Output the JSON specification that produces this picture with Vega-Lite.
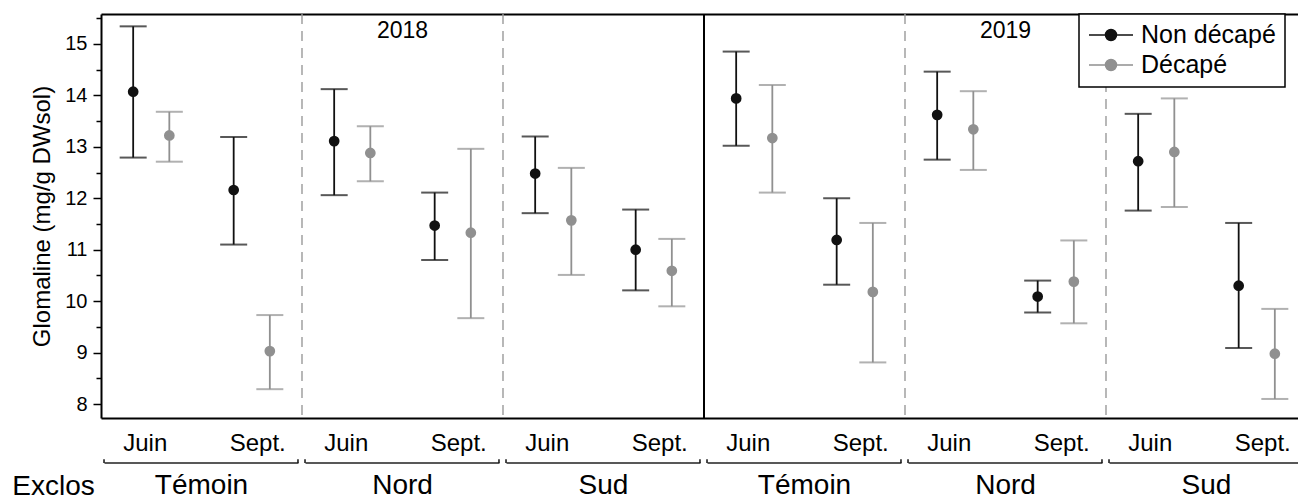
{
  "$schema": "https://vega.github.io/schema/vega-lite/v6.json",
  "width": 1197,
  "height": 404,
  "autosize": "none",
  "padding": {"left": 101, "top": 14, "right": 0, "bottom": 81},
  "background": "white",
  "config": {
    "view": {"stroke": null},
    "font": "Liberation Sans",
    "axis": {"grid": false, "domainColor": "black", "tickColor": "black", "labelColor": "black", "titleColor": "black", "titleFontWeight": "normal"},
    "legend": {"strokeWidth": 1.5}
  },
  "data": {
    "values": [
      {"periode": "2018 Témoin Juin", "annee": "2018", "exclos": "Témoin", "mois": "Juin", "traitement": "Non décapé", "moyenne": 14.07, "bas": 12.79, "haut": 15.34},
      {"periode": "2018 Témoin Juin", "annee": "2018", "exclos": "Témoin", "mois": "Juin", "traitement": "Décapé", "moyenne": 13.22, "bas": 12.71, "haut": 13.68},
      {"periode": "2018 Témoin Sept.", "annee": "2018", "exclos": "Témoin", "mois": "Sept.", "traitement": "Non décapé", "moyenne": 12.16, "bas": 11.10, "haut": 13.19},
      {"periode": "2018 Témoin Sept.", "annee": "2018", "exclos": "Témoin", "mois": "Sept.", "traitement": "Décapé", "moyenne": 9.03, "bas": 8.29, "haut": 9.73},
      {"periode": "2018 Nord Juin", "annee": "2018", "exclos": "Nord", "mois": "Juin", "traitement": "Non décapé", "moyenne": 13.11, "bas": 12.06, "haut": 14.12},
      {"periode": "2018 Nord Juin", "annee": "2018", "exclos": "Nord", "mois": "Juin", "traitement": "Décapé", "moyenne": 12.88, "bas": 12.33, "haut": 13.40},
      {"periode": "2018 Nord Sept.", "annee": "2018", "exclos": "Nord", "mois": "Sept.", "traitement": "Non décapé", "moyenne": 11.47, "bas": 10.80, "haut": 12.11},
      {"periode": "2018 Nord Sept.", "annee": "2018", "exclos": "Nord", "mois": "Sept.", "traitement": "Décapé", "moyenne": 11.33, "bas": 9.67, "haut": 12.96},
      {"periode": "2018 Sud Juin", "annee": "2018", "exclos": "Sud", "mois": "Juin", "traitement": "Non décapé", "moyenne": 12.48, "bas": 11.71, "haut": 13.20},
      {"periode": "2018 Sud Juin", "annee": "2018", "exclos": "Sud", "mois": "Juin", "traitement": "Décapé", "moyenne": 11.57, "bas": 10.51, "haut": 12.59},
      {"periode": "2018 Sud Sept.", "annee": "2018", "exclos": "Sud", "mois": "Sept.", "traitement": "Non décapé", "moyenne": 11.00, "bas": 10.21, "haut": 11.78},
      {"periode": "2018 Sud Sept.", "annee": "2018", "exclos": "Sud", "mois": "Sept.", "traitement": "Décapé", "moyenne": 10.59, "bas": 9.90, "haut": 11.21},
      {"periode": "2019 Témoin Juin", "annee": "2019", "exclos": "Témoin", "mois": "Juin", "traitement": "Non décapé", "moyenne": 13.94, "bas": 13.02, "haut": 14.85},
      {"periode": "2019 Témoin Juin", "annee": "2019", "exclos": "Témoin", "mois": "Juin", "traitement": "Décapé", "moyenne": 13.17, "bas": 12.11, "haut": 14.20},
      {"periode": "2019 Témoin Sept.", "annee": "2019", "exclos": "Témoin", "mois": "Sept.", "traitement": "Non décapé", "moyenne": 11.19, "bas": 10.32, "haut": 12.00},
      {"periode": "2019 Témoin Sept.", "annee": "2019", "exclos": "Témoin", "mois": "Sept.", "traitement": "Décapé", "moyenne": 10.18, "bas": 8.81, "haut": 11.52},
      {"periode": "2019 Nord Juin", "annee": "2019", "exclos": "Nord", "mois": "Juin", "traitement": "Non décapé", "moyenne": 13.62, "bas": 12.75, "haut": 14.46},
      {"periode": "2019 Nord Juin", "annee": "2019", "exclos": "Nord", "mois": "Juin", "traitement": "Décapé", "moyenne": 13.34, "bas": 12.55, "haut": 14.08},
      {"periode": "2019 Nord Sept.", "annee": "2019", "exclos": "Nord", "mois": "Sept.", "traitement": "Non décapé", "moyenne": 10.09, "bas": 9.78, "haut": 10.40},
      {"periode": "2019 Nord Sept.", "annee": "2019", "exclos": "Nord", "mois": "Sept.", "traitement": "Décapé", "moyenne": 10.38, "bas": 9.57, "haut": 11.18},
      {"periode": "2019 Sud Juin", "annee": "2019", "exclos": "Sud", "mois": "Juin", "traitement": "Non décapé", "moyenne": 12.72, "bas": 11.76, "haut": 13.64},
      {"periode": "2019 Sud Juin", "annee": "2019", "exclos": "Sud", "mois": "Juin", "traitement": "Décapé", "moyenne": 12.90, "bas": 11.83, "haut": 13.94},
      {"periode": "2019 Sud Sept.", "annee": "2019", "exclos": "Sud", "mois": "Sept.", "traitement": "Non décapé", "moyenne": 10.30, "bas": 9.09, "haut": 11.52},
      {"periode": "2019 Sud Sept.", "annee": "2019", "exclos": "Sud", "mois": "Sept.", "traitement": "Décapé", "moyenne": 8.98, "bas": 8.10, "haut": 9.85}
    ]
  },
  "layer": [
    {
      "transform": [{"filter": "datum.mois == 'Juin' && datum.exclos != 'Témoin' && datum.traitement == 'Non décapé'"}],
      "mark": {"type": "rule", "color": "#9a9a9a", "strokeWidth": 1.4, "strokeDash": [10, 7]},
      "encoding": {
        "x": {"field": "periode", "type": "nominal", "bandPosition": 0,
          "scale": {"domain": ["2018 Témoin Juin", "2018 Témoin Sept.", "2018 Nord Juin", "2018 Nord Sept.", "2018 Sud Juin", "2018 Sud Sept.", "2019 Témoin Juin", "2019 Témoin Sept.", "2019 Nord Juin", "2019 Nord Sept.", "2019 Sud Juin", "2019 Sud Sept."],
            "range": [0, 1206], "paddingInner": 0, "paddingOuter": 0},
          "axis": {"orient": "top", "labels": false, "ticks": false, "title": null, "domain": true, "domainWidth": 2}}
      }
    },
    {
      "transform": [{"filter": "datum.annee == '2019' && datum.mois == 'Juin' && datum.exclos == 'Témoin' && datum.traitement == 'Non décapé'"}],
      "mark": {"type": "rule", "color": "black", "strokeWidth": 2},
      "encoding": {
        "x": {"field": "periode", "type": "nominal", "bandPosition": 0, "axis": null}
      }
    },
    {
      "mark": {"type": "rule", "strokeWidth": 1.8},
      "encoding": {
        "x": {"field": "periode", "type": "nominal", "axis": null},
        "xOffset": {"field": "traitement", "type": "nominal", "scale": {"domain": ["Non décapé", "Décapé"], "paddingOuter": 0.39, "paddingInner": 0}},
        "y": {"field": "bas", "type": "quantitative", "scale": {"domain": [7.73, 15.58], "nice": false, "zero": false},
          "axis": {"orient": "left", "values": [8.5, 9.5, 10.5, 11.5, 12.5, 13.5, 14.5, 15.5], "labels": false, "domain": false, "tickSize": 5, "tickWidth": 1.5, "title": null}},
        "y2": {"field": "haut"},
        "color": {"field": "traitement", "type": "nominal", "scale": {"domain": ["Non décapé", "Décapé"], "range": ["#111111", "#909090"]}}
      }
    },
    {
      "mark": {"type": "tick", "size": 27, "thickness": 2},
      "encoding": {
        "x": {"field": "periode", "type": "nominal", "axis": null},
        "xOffset": {"field": "traitement", "type": "nominal"},
        "y": {"field": "bas", "type": "quantitative", "axis": null},
        "color": {"field": "traitement", "type": "nominal"}
      }
    },
    {
      "mark": {"type": "tick", "size": 27, "thickness": 2},
      "encoding": {
        "x": {"field": "periode", "type": "nominal", "axis": null},
        "xOffset": {"field": "traitement", "type": "nominal"},
        "y": {"field": "haut", "type": "quantitative", "axis": null},
        "color": {"field": "traitement", "type": "nominal"}
      }
    },
    {
      "mark": {"type": "point", "filled": true, "size": 115, "opacity": 1},
      "encoding": {
        "x": {"field": "periode", "type": "nominal",
          "axis": {"orient": "bottom", "labelExpr": "split(datum.value, ' ')[2]", "labelAngle": 0, "ticks": false, "tickSize": 0,
            "labelFontSize": 24, "labelBaseline": "alphabetic", "labelPadding": 32,
            "labelOffset": {"condition": {"test": "indexof(datum.value, 'Juin') >= 0", "value": -6}, "value": 6},
            "domainWidth": 2,
            "title": "Exclos", "titleFontSize": 28, "titleX": -48, "titleY": 76, "titleAlign": "center", "titleBaseline": "alphabetic", "titleAnchor": "start"}},
        "xOffset": {"field": "traitement", "type": "nominal"},
        "y": {"field": "moyenne", "type": "quantitative",
          "axis": {"orient": "left", "values": [8, 9, 10, 11, 12, 13, 14, 15], "tickSize": 8, "tickWidth": 1.5, "labelFontSize": 20, "labelPadding": 6, "domainWidth": 2,
            "title": "Glomaline (mg/g DWsol)", "titleFontSize": 24, "titlePadding": 10}},
        "color": {"field": "traitement", "type": "nominal",
          "legend": {"title": null, "orient": "none", "legendX": 978, "legendY": 0, "direction": "vertical",
            "symbolType": "M-1,0H1M0.25,0A0.25,0.25,0,1,1,-0.25,0A0.25,0.25,0,1,1,0.25,0Z",
            "symbolSize": 1936, "clipHeight": 24, "symbolStrokeWidth": 1.5, "symbolOpacity": 1,
            "labelFontSize": 25, "labelColor": "black", "labelOffset": 7, "padding": 9, "rowPadding": 5, "labelLimit": 400,
            "labelExpr": "datum.label + '\u2003'",
            "strokeColor": "black", "fillColor": "white",
            "encode": {"symbols": {"update": {"stroke": {"scale": "color", "field": "value"}, "fill": {"scale": "color", "field": "value"}, "opacity": {"value": 1}}}}}}
      }
    },
    {
      "transform": [{"filter": "datum.mois == 'Sept.' && datum.traitement == 'Non décapé'"}],
      "mark": {"type": "tick", "size": 194, "thickness": 2, "color": "#111111", "xOffset": -50.25},
      "encoding": {
        "x": {"field": "periode", "type": "nominal", "axis": null},
        "y": {"datum": 6.855, "type": "quantitative", "axis": null}
      }
    },
    {
      "transform": [{"filter": "datum.mois == 'Juin' && datum.traitement == 'Non décapé'"}],
      "mark": {"type": "rule", "strokeWidth": 1.5, "color": "#111111"},
      "encoding": {
        "x": {"field": "periode", "type": "nominal", "bandPosition": 0.03, "axis": null},
        "y": {"datum": 6.855, "type": "quantitative", "axis": null},
        "y2": {"datum": 6.93}
      }
    },
    {
      "transform": [{"filter": "datum.mois == 'Sept.' && datum.traitement == 'Non décapé'"}],
      "mark": {"type": "rule", "strokeWidth": 1.5, "color": "#111111"},
      "encoding": {
        "x": {"field": "periode", "type": "nominal", "bandPosition": 0.96, "axis": null},
        "y": {"datum": 6.855, "type": "quantitative", "axis": null},
        "y2": {"datum": 6.93}
      }
    },
    {
      "transform": [{"filter": "datum.mois == 'Sept.' && datum.traitement == 'Non décapé'"}],
      "mark": {"type": "text", "fontSize": 28, "baseline": "alphabetic", "align": "center", "color": "black"},
      "encoding": {
        "x": {"field": "periode", "type": "nominal", "bandPosition": 0, "axis": null},
        "y": {"datum": 6.25, "type": "quantitative", "axis": null},
        "text": {"field": "exclos"}
      }
    },
    {
      "transform": [{"filter": "datum.exclos == 'Nord' && datum.mois == 'Sept.' && datum.traitement == 'Non décapé'"}],
      "mark": {"type": "text", "fontSize": 23, "baseline": "alphabetic", "align": "center", "color": "black"},
      "encoding": {
        "x": {"field": "periode", "type": "nominal", "bandPosition": 0, "axis": null},
        "y": {"datum": 15.108, "type": "quantitative", "axis": null},
        "text": {"field": "annee", "type": "nominal"}
      }
    }
  ],
  "resolve": {"axis": {"x": "independent", "y": "independent"}}
}
